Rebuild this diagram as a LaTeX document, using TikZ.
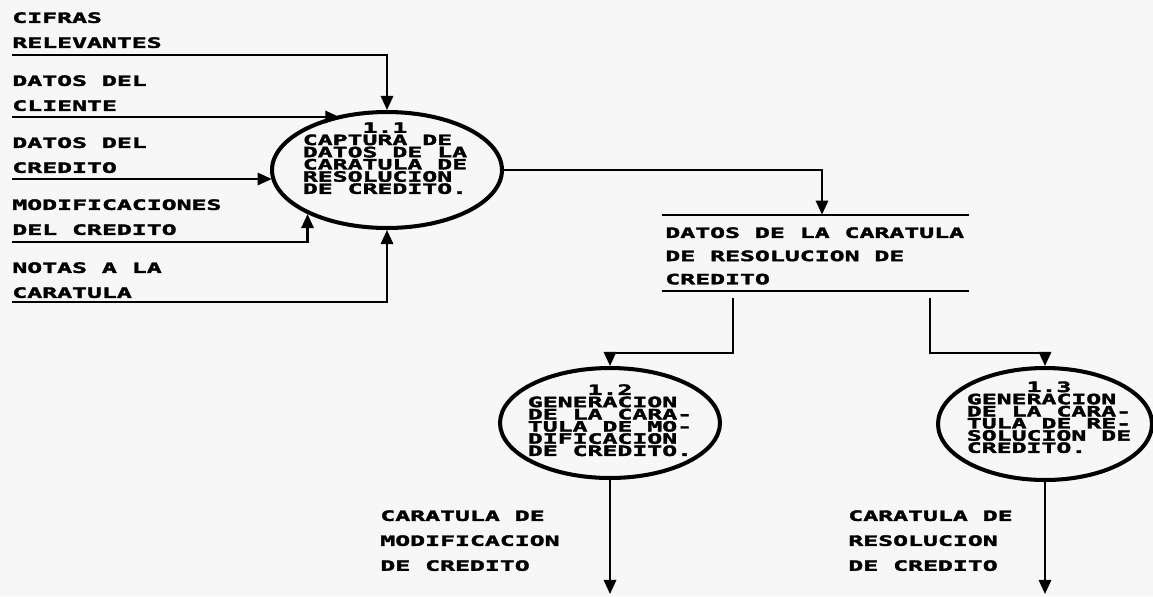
\documentclass[tikz,border=0pt]{standalone}
\usepackage{fontspec}
\newfontfamily\plotfont{DejaVu Sans Mono Bold}[FakeStretch=1.75,LetterSpace=0,FakeBold=2.5]
\usetikzlibrary{shapes.geometric,arrows.meta}
\begin{document}
\begin{tikzpicture}[x=0.02cm,y=-0.02cm]
\tikzset{
  lbl/.style={inner sep=0pt, anchor=north west, align=left,
    font=\plotfont\fontsize{8.07}{14.2}\selectfont},
  slbl/.style={inner sep=0pt, anchor=north west, align=left,
    font=\plotfont\fontsize{8.07}{13.2}\selectfont},
  proc/.style={ellipse, draw, line width=2.3pt, inner sep=0pt},
  ptext/.style={inner sep=0pt,
    font=\plotfont\fontsize{8.07}{3.2}\selectfont},
  flow/.style={line width=1.3pt, -{Triangle[length=8pt,width=7pt]}},
  storeline/.style={line width=1.2pt},
}
\fill[black!3] (0,0) rectangle (1153,596);
\useasboundingbox (0,0) rectangle (1153,596);

% left labels
\node[lbl] (l1) at (12,12) {CIFRAS\\RELEVANTES};
\node[lbl] (l2) at (12,75) {DATOS DEL\\CLIENTE};
\node[lbl] (l3) at (12,137) {DATOS DEL\\CREDITO};
\node[lbl] (l4) at (12,199) {MODIFICACIONES\\DEL CREDITO};
\node[lbl] (l5) at (12,262) {NOTAS A LA\\CARATULA};

\coordinate (s1) at (12,55);
\coordinate (s2) at (12,117);
\coordinate (s3) at (12,179);
\coordinate (s4) at (12,242);
\coordinate (s5) at (12,302);

% process 1.1
\node[proc, minimum width=4.6cm, minimum height=2.32cm] (p11) at (387,170) {};
\node[ptext] (t11) at (385,159) {\begin{tabular}{@{}l@{}}\multicolumn{1}{@{}c@{}}{1.1}\\CAPTURA DE\\DATOS DE LA\\CARATULA DE\\RESOLUCION\\DE CREDITO.\end{tabular}};

% store
\node[inner sep=0pt, minimum width=6.14cm, minimum height=1.52cm] (store) at (815.5,253) {};
\draw[storeline] (store.north west) -- (store.north east);
\draw[storeline] (store.south west) -- (store.south east);
\node[slbl] (st) at (665,227) {DATOS DE LA CARATULA\\DE RESOLUCION DE\\CREDITO};

% processes 1.2 and 1.3
\node[proc, minimum width=4.4cm, minimum height=2.2cm] (p12) at (610,423) {};
\node[ptext] (t12) at (610,421) {\begin{tabular}{@{}l@{}}\multicolumn{1}{@{}c@{}}{1.2}\\GENERACION\\DE LA CARA-\\TULA DE MO-\\DIFICACION\\DE CREDITO.\end{tabular}};
\node[proc, minimum width=4.28cm, minimum height=2.24cm] (p13) at (1045,424) {};
\node[ptext] (t13) at (1049,418) {\begin{tabular}{@{}l@{}}\multicolumn{1}{@{}c@{}}{1.3}\\GENERACION\\DE LA CARA-\\TULA DE RE-\\SOLUCION DE\\CREDITO.\end{tabular}};

% bottom labels
\node[lbl] (b1) at (380,510) {CARATULA DE\\MODIFICACION\\DE CREDITO};
\node[lbl] (b2) at (848,510) {CARATULA DE\\RESOLUCION\\DE CREDITO};

% connectors
\draw[flow] (s1) -| (p11.north);
\draw[flow] (s2) -- (s2 -| p11.131);
\draw[flow] (s3) -- (s3 -| p11.185);
\draw[flow] (s4) -| (p11.209);
\draw[flow] (s5) -| (p11.south);

\coordinate (sx) at (822,0);
\draw[flow] (p11.east) -| (store.north -| sx);

\coordinate (o1) at (733,298);
\coordinate (m1) at (733,353);
\coordinate (o2) at (930,298);
\coordinate (m2) at (930,353);
\draw[flow] (o1) -- (m1) -| (p12.north);
\draw[flow] (o2) -- (m2) -| (p13.north);

\coordinate (e1) at (0,594);
\draw[flow] (p12.south) -- (p12.south |- e1);
\draw[flow] (p13.south) -- (p13.south |- e1);
\end{tikzpicture}
\end{document}
